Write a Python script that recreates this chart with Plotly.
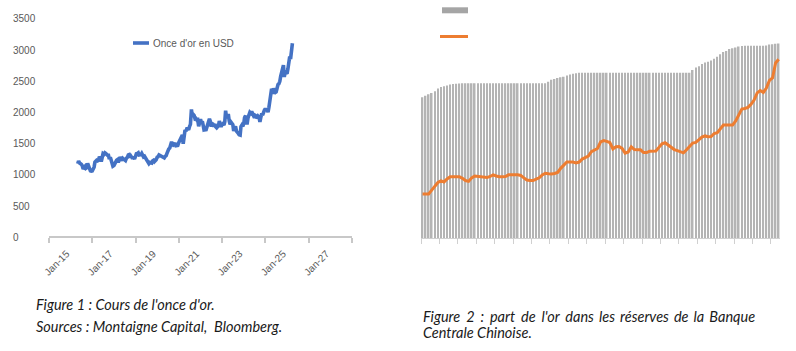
import plotly.graph_objects as go
import pandas as pd

W, H = 796, 351
def px(x): return x / W
def py(y): return 1 - y / H

# ---------------- Figure 1 data: gold price (USD/oz), semi-monthly from May 2015 ----------------
gold_usd = [
    # 2015 May-Dec
    1180, 1225, 1190, 1185, 1170, 1150, 1095, 1115, 1135, 1105, 1115, 1185, 1140, 1085, 1065, 1060,
    # 2016
    1065, 1090, 1125, 1205, 1240, 1235, 1225, 1235, 1290, 1275, 1215, 1290,
    1340, 1330, 1355, 1345, 1310, 1315, 1315, 1255, 1285, 1225, 1175, 1140,
    # 2017
    1150, 1200, 1210, 1235, 1245, 1200, 1250, 1285, 1255, 1230, 1265, 1255,
    1240, 1230, 1270, 1280, 1320, 1325, 1280, 1300, 1275, 1280, 1275, 1255,
    # 2018
    1305, 1340, 1345, 1355, 1320, 1320, 1325, 1345, 1310, 1290, 1300, 1280,
    1250, 1240, 1220, 1180, 1200, 1195, 1190, 1225, 1235, 1215, 1225, 1245,
    # 2019
    1285, 1290, 1320, 1315, 1300, 1305, 1295, 1280, 1275, 1295, 1310, 1345,
    1395, 1415, 1430, 1515, 1530, 1500, 1480, 1490, 1510, 1470, 1465, 1475,
    # 2020
    1520, 1550, 1585, 1590, 1640, 1500, 1590, 1720, 1700, 1740, 1740, 1725,
    1780, 1810, 2050, 1945, 1970, 1955, 1900, 1905, 1880, 1885, 1780, 1855,
    # 2021
    1895, 1840, 1860, 1795, 1725, 1730, 1710, 1765, 1770, 1845, 1900, 1860,
    1775, 1825, 1815, 1775, 1815, 1770, 1755, 1770, 1790, 1865, 1785, 1775,
    # 2022
    1805, 1820, 1800, 1855, 2030, 1930, 1935, 1975, 1865, 1810, 1845, 1830,
    1805, 1705, 1765, 1780, 1700, 1665, 1665, 1645, 1640, 1775, 1800, 1780,
    # 2023
    1825, 1920, 1950, 1835, 1835, 1920, 1980, 2005, 1990, 2015, 1980, 1955,
    1915, 1955, 1945, 1905, 1940, 1925, 1850, 1920, 1985, 1960, 2035, 2035,
    # 2024
    2065, 2030, 2050, 2005, 2085, 2160, 2260, 2380, 2300, 2390, 2330, 2320,
    2330, 2430, 2450, 2460, 2500, 2580, 2660, 2680, 2760, 2570, 2650, 2640,
    # 2025 Jan-Apr 1
    2625, 2700, 2800, 2900, 2860, 2990, 3110,
]
gold_dates = pd.date_range("2015-05-01", periods=len(gold_usd), freq="SMS")

x1_tick_vals = ["2015-01-01", "2017-01-01", "2019-01-01", "2021-01-01",
                "2023-01-01", "2025-01-01", "2027-01-01"]
x1_tick_text = ["Jan-15", "Jan-17", "Jan-19", "Jan-21", "Jan-23", "Jan-25", "Jan-27"]
y1_tick_vals = [0, 500, 1000, 1500, 2000, 2500, 3000, 3500]
legend1_label = "Once d'or en USD"

# ---------------- Figure 2 data: China PBoC, monthly Jul 2015 - Mar 2025 ----------------
reserves_moz = (
    [53.31, 53.93, 54.45, 54.93, 55.59, 56.66] +
    [57.18, 57.51, 57.79, 58.14, 58.32, 58.46, 58.54, 58.60, 58.62, 58.64, 58.64, 58.64] +
    [58.64] * 12 +
    [58.64] * 11 + [59.24] +
    [59.94, 60.26, 60.62, 60.94, 61.10, 61.61, 61.94, 62.26, 62.45, 62.64, 62.64, 62.64] +
    [62.64] * 12 +
    [62.64] * 12 +
    [62.64] * 10 + [63.67, 64.64] +
    [65.12, 65.92, 66.50, 66.76, 67.27, 67.95, 68.69, 69.62, 70.46, 70.83, 71.58, 71.87] +
    [72.19, 72.58, 72.74, 72.80, 72.80, 72.80, 72.80, 72.80, 72.80, 72.80, 72.96, 73.29] +
    [73.45, 73.61, 73.70]
)
gold_share_pct = [
    1.62, 1.62, 1.62, 1.76, 1.91, 2.04, 2.10, 2.06, 2.17, 2.25,
    2.25, 2.25, 2.25, 2.19, 2.11, 2.08, 2.21, 2.28, 2.27, 2.26,
    2.25, 2.22, 2.26, 2.32, 2.28, 2.25, 2.25, 2.26, 2.32, 2.33,
    2.32, 2.32, 2.30, 2.21, 2.13, 2.11, 2.11, 2.16, 2.21, 2.32,
    2.38, 2.36, 2.35, 2.37, 2.41, 2.56, 2.67, 2.79, 2.79, 2.79,
    2.76, 2.79, 2.90, 2.96, 3.01, 3.17, 3.22, 3.29, 3.53, 3.58,
    3.55, 3.51, 3.27, 3.35, 3.36, 3.29, 3.12, 3.16, 3.35, 3.25,
    3.24, 3.24, 3.14, 3.14, 3.19, 3.20, 3.20, 3.33, 3.46, 3.50,
    3.42, 3.33, 3.25, 3.21, 3.16, 3.13, 3.24, 3.35, 3.49, 3.51,
    3.62, 3.71, 3.75, 3.72, 3.73, 3.84, 3.87, 4.01, 4.15, 4.15,
    4.15, 4.15, 4.30, 4.54, 4.74, 4.76, 4.80, 4.91, 5.07, 5.33,
    5.42, 5.35, 5.51, 5.79, 5.88, 6.43, 6.57,
]
months = list(range(len(reserves_moz)))
x2_tick_vals = [-0.5 + 6 * k for k in range(20)]

NB = "\u00a0"
TH = "\u2009"
HAIR = "\u200a"
captions = {
    "fig1_a": "Figure 1 : Cours de l'once d'or.",
    "fig1_b": "Sources : Montaigne Capital," + NB + " Bloomberg.",
    "fig2_a": "Figure 2 : part de l'or dans les réserves de la Banque",
    "fig2_b": "Centrale Chinoise.",
}

GREY_TXT = "#595959"
AXIS_GREY = "#C8C8C8"
BLUE = "#4472C4"
ORANGE = "#ED7D31"
BAR_GREY = "#B4B4B4"

fig = go.Figure()

fig.add_trace(go.Scatter(x=gold_dates, y=gold_usd, mode="lines", name=legend1_label,
                         line=dict(color=BLUE, width=3.6), xaxis="x", yaxis="y",
                         showlegend=False))

fig.add_trace(go.Bar(x=months, y=reserves_moz, marker=dict(color=BAR_GREY, line=dict(width=0)),
                     xaxis="x2", yaxis="y3", showlegend=False))
fig.add_trace(go.Scatter(x=months, y=gold_share_pct, mode="lines",
                         line=dict(color=ORANGE, width=3), xaxis="x2", yaxis="y4",
                         showlegend=False))

PAD = 120
ppu = (237.3 - 19) / 3500
y1_dom = [py(237.3 + PAD * ppu), py(19 - PAD * ppu)]
y2_dom = [py(238), py(20)]

fig.update_layout(
    width=W, height=H, margin=dict(l=0, r=0, t=0, b=0, autoexpand=False),
    paper_bgcolor="white", plot_bgcolor="rgba(0,0,0,0)",
    bargap=0.5, showlegend=False,
    font=dict(family="Liberation Sans, Arial, sans-serif", size=10, color=GREY_TXT),
    xaxis=dict(
        domain=[px(49), px(352)], anchor="free", position=py(237.3), type="date",
        range=["2014-01-01", "2028-01-02"], automargin=False,
        tickvals=x1_tick_vals, ticktext=x1_tick_text, tickangle=-45,
        ticks="", showgrid=False, zeroline=False,
        showline=True, linecolor=AXIS_GREY, linewidth=1.5,
        tickfont=dict(size=10, color=GREY_TXT),
        ticklabelstandoff=6, ticklabelshift=-4,
        minor=dict(tick0="2014-01-01", dtick="M24", ticks="outside", ticklen=5,
                   tickcolor=AXIS_GREY, tickwidth=1.5, showgrid=False),
    ),
    yaxis=dict(
        domain=y1_dom, range=[-PAD, 3500 + PAD], anchor="free", position=px(9),
        automargin=False,
        tickvals=y1_tick_vals, ticklabelposition="inside", ticks="",
        showgrid=False, zeroline=False, showline=False,
        tickfont=dict(size=10, color=GREY_TXT),
    ),
    xaxis2=dict(
        domain=[px(421), px(780.2)], anchor="y3", automargin=False,
        range=[-0.5, len(months) - 0.5],
        tickmode="array", tickvals=x2_tick_vals, showticklabels=False,
        ticks="outside", ticklen=5, tickcolor="#D0D0D0", tickwidth=1,
        showline=True, linecolor="#D0D0D0", linewidth=1,
        showgrid=False, zeroline=False,
    ),
    yaxis3=dict(domain=y2_dom, range=[0, 82.6], anchor="x2", visible=False,
                showgrid=False, zeroline=False),
    yaxis4=dict(domain=y2_dom, range=[0, 8.01], anchor="x2", overlaying="y3",
                visible=False, showgrid=False, zeroline=False),
)

shapes = [
    dict(type="line", xref="paper", yref="paper", x0=px(133), x1=px(149), y0=py(43), y1=py(43),
         line=dict(color=BLUE, width=3.6)),
    dict(type="rect", xref="paper", yref="paper", x0=px(442), x1=px(468), y0=py(13.3), y1=py(7.3),
         fillcolor="#A5A5A5", line=dict(width=0)),
    dict(type="line", xref="paper", yref="paper", x0=px(440), x1=px(468), y0=py(36.5), y1=py(36.5),
         line=dict(color=ORANGE, width=3)),
]
fig.update_layout(shapes=shapes)

cap_font = dict(family="Lato, Open Sans, sans-serif", size=14.5, color="#1a1a1a")
words = captions["fig2_a"].split(" ")
fig2a_text = ""
for i, w in enumerate(words):
    if i == 0:
        fig2a_text = w
    else:
        gap = " " + TH + (HAIR if i <= 6 else "")
        fig2a_text += gap + w
annotations = [
    dict(text=legend1_label, xref="paper", yref="paper", x=px(151), y=py(43.5),
         xanchor="left", yanchor="middle", showarrow=False,
         font=dict(size=10, color=GREY_TXT)),
    dict(text="<i>" + captions["fig1_a"] + "</i>", xref="paper", yref="paper", x=px(34), y=py(304),
         xanchor="left", yanchor="middle", showarrow=False, font=cap_font),
    dict(text="<i>" + captions["fig1_b"] + "</i>", xref="paper", yref="paper", x=px(34), y=py(326.5),
         xanchor="left", yanchor="middle", showarrow=False, font=cap_font),
    dict(text="<i>" + fig2a_text + "</i>", xref="paper", yref="paper", x=px(421), y=py(316.5),
         xanchor="left", yanchor="middle", showarrow=False, font=cap_font),
    dict(text="<i>" + captions["fig2_b"] + "</i>", xref="paper", yref="paper", x=px(421), y=py(332),
         xanchor="left", yanchor="middle", showarrow=False, font=cap_font),
]
fig.update_layout(annotations=annotations)

fig.write_html("out.html")
